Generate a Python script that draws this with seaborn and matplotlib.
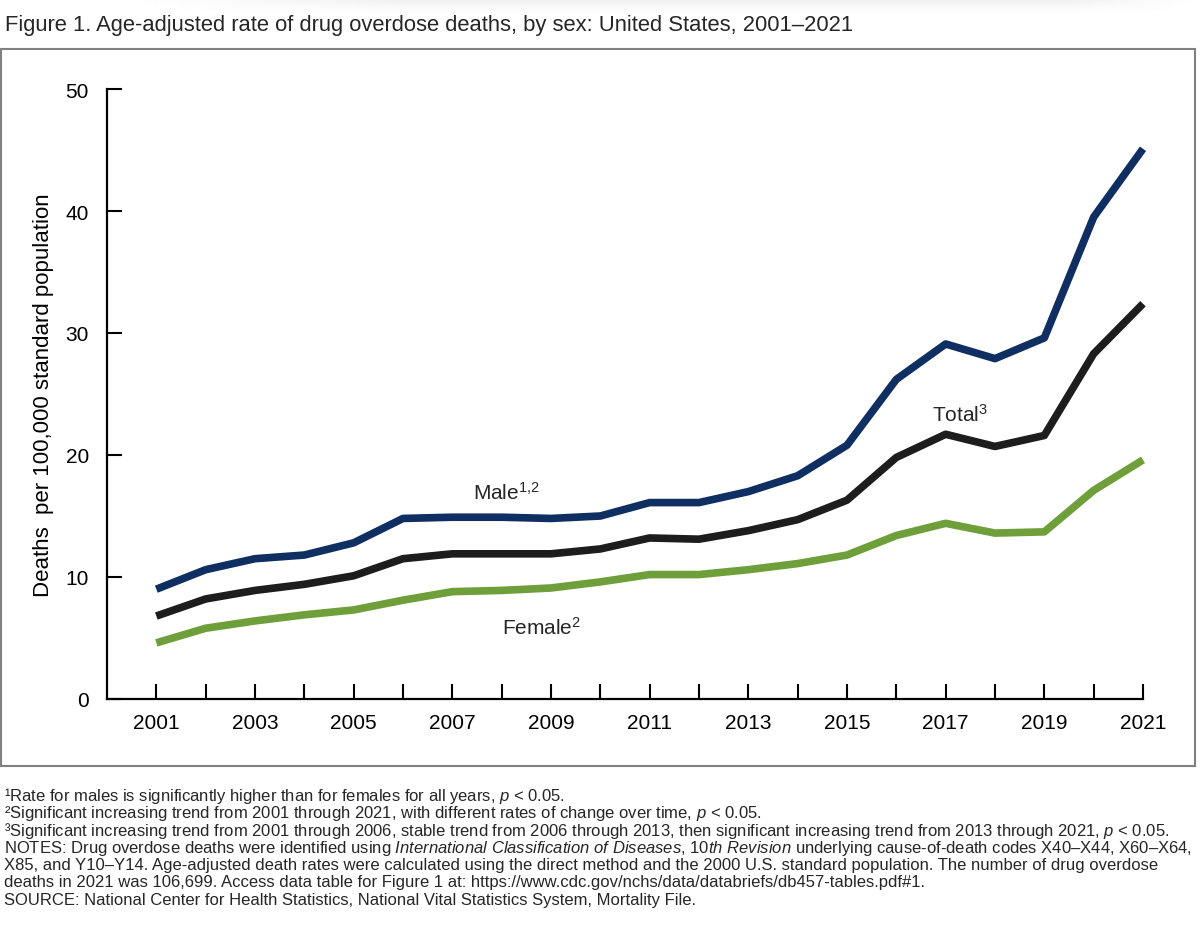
import matplotlib
matplotlib.use("Agg")
import matplotlib.pyplot as plt
import matplotlib.font_manager as fm
import seaborn as sns
import pandas as pd
import numpy as np
from matplotlib.patches import Rectangle

# ---- data ----
years = list(range(2001, 2022))
male = [9.0, 10.6, 11.5, 11.8, 12.8, 14.8, 14.9, 14.9, 14.8, 15.0, 16.1,
        16.1, 17.0, 18.3, 20.8, 26.2, 29.1, 27.9, 29.6, 39.5, 45.1]
total = [6.8, 8.2, 8.9, 9.4, 10.1, 11.5, 11.9, 11.9, 11.9, 12.3, 13.2,
         13.1, 13.8, 14.7, 16.3, 19.8, 21.7, 20.7, 21.6, 28.3, 32.4]
female = [4.6, 5.8, 6.4, 6.9, 7.3, 8.1, 8.8, 8.9, 9.1, 9.6, 10.2,
          10.2, 10.6, 11.1, 11.8, 13.4, 14.4, 13.6, 13.7, 17.1, 19.6]
series_names = ["Female", "Total", "Male"]
x_tick_labels = [str(y) if y % 2 == 1 else "" for y in years]
y_ticks = [0, 10, 20, 30, 40, 50]

title = "Figure 1. Age-adjusted rate of drug overdose deaths, by sex: United States, 2001\u20132021"
ylabel = "Deaths  per 100,000 standard population"
footnotes = [
    "\u00b9Rate for males is significantly higher than for females for all years, $\\mathit{p}$ < 0.05.",
    "\u00b2Significant increasing trend from 2001 through 2021, with different rates of change over time, $\\mathit{p}$ < 0.05.",
    "\u00b3Significant increasing trend from 2001 through 2006, stable trend from 2006 through 2013, then significant increasing trend from 2013 through 2021, $\\mathit{p}$ < 0.05.",
    "NOTES: Drug overdose deaths were identified using $\\mathit{International\\ Classification\\ of\\ Diseases{,}\\ 10th\\ Revision}$ underlying cause-of-death codes X40\u2013X44, X60\u2013X64,",
    "X85, and Y10\u2013Y14. Age-adjusted death rates were calculated using the direct method and the 2000 U.S. standard population. The number of drug overdose",
    "deaths in 2021 was 106,699. Access data table for Figure 1 at: https://www.cdc.gov/nchs/data/databriefs/db457-tables.pdf#1.",
    "SOURCE: National Center for Health Statistics, National Vital Statistics System, Mortality File.",
]

# ---- style ----
sns.set_style("ticks")
avail = {f.name for f in fm.fontManager.ttflist}
base = "Liberation Sans" if "Liberation Sans" in avail else "DejaVu Sans"
plt.rcParams["font.family"] = [base, "DejaVu Sans"]
plt.rcParams["mathtext.fontset"] = "custom"
plt.rcParams["mathtext.rm"] = base
plt.rcParams["mathtext.it"] = base + ":italic"
plt.rcParams["mathtext.bf"] = base + ":bold"

W, H = 1200, 945
fig = plt.figure(figsize=(W / 100, H / 100), dpi=100)
fig.patch.set_facecolor("white")

# faint soft shadow band at the very top
sh = fig.add_axes([0.10, 1 - 18 / H, 0.90, 18 / H])
vy = np.linspace(1.0, 0.0, 18).reshape(-1, 1) ** 1.5
hx = np.clip(np.minimum(np.linspace(0, 1, 200) / 0.25, np.linspace(1, 0, 200) / 0.12), 0, 1).reshape(1, -1)
grad = 1.0 - 0.06 * vy * hx
sh.imshow(grad, cmap="gray", vmin=0, vmax=1, aspect="auto", extent=(0, 1, 0, 1),
          interpolation="bilinear")
sh.set_axis_off()

ax = fig.add_axes([107 / W, 1 - 700 / H, (1143 - 107) / W, (700 - 90) / H])

df = pd.DataFrame({
    "year": years * 3,
    "rate": female + total + male,
    "series": ["Female"] * len(years) + ["Total"] * len(years) + ["Male"] * len(years),
})
palette = {"Male": "#0f2e62", "Total": "#1d1d1d", "Female": "#6f9f3b"}
sns.lineplot(data=df, x="year", y="rate", hue="series", hue_order=series_names,
             palette=palette, linewidth=5.5, legend=False, ax=ax,
             solid_joinstyle="round", solid_capstyle="butt", clip_on=False)

ax.set_xlim(2000, 2021)
ax.set_ylim(0, 50)
ax.set_xticks(years)
ax.set_xticklabels(x_tick_labels)
ax.set_yticks(y_ticks)
ax.set_yticklabels([str(v) for v in y_ticks])
ax.tick_params(axis="both", direction="in", length=11, width=1.5, color="black",
               labelsize=15, labelcolor="black")
ax.tick_params(axis="y", pad=13)
ax.tick_params(axis="x", pad=10)
for s in ["top", "right"]:
    ax.spines[s].set_visible(False)
for s in ["left", "bottom"]:
    ax.spines[s].set_linewidth(1.6)
    ax.spines[s].set_color("black")
ax.set_xlabel("")
ax.set_ylabel(ylabel, fontsize=16, color="black")
ax.yaxis.set_label_coords((54 - 107) / (1143 - 107), 0.5)

# series labels
ax.text(2008.1, 17.0, r"Male$^{1{,}2}$", fontsize=15, ha="center", va="center")
ax.text(2017.3, 23.4, r"Total$^{3}$", fontsize=15, ha="center", va="center")
ax.text(2008.8, 5.9, r"Female$^{2}$", fontsize=15, ha="center", va="center")

# title
fig.text(5 / W, 1 - 25 / H, title, fontsize=15.8, ha="left", va="center")

# frame
fig.patches.append(Rectangle((1 / W, 1 - 767 / H), 1194 / W, 717 / H,
                             transform=fig.transFigure, fill=False,
                             edgecolor="#808080", linewidth=1.5))

# footnotes
y0 = 796
for i, line in enumerate(footnotes):
    fig.text(4 / W, 1 - (y0 + i * 17.4) / H, line, fontsize=12.0,
             ha="left", va="center")

fig.savefig("out.png", dpi=100, facecolor="white")
